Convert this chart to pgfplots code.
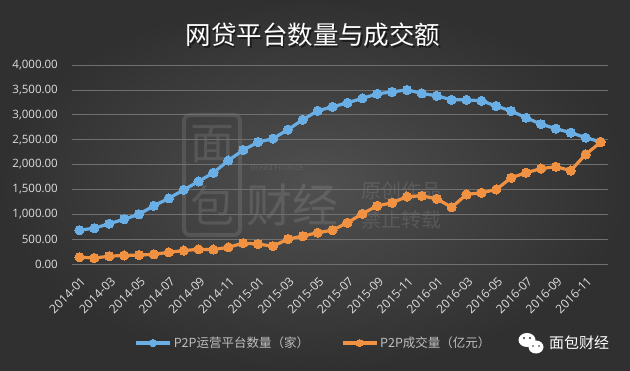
\documentclass[border=0pt]{standalone}
\usepackage{fontspec}
\setmainfont{Open Sans}
\newfontfamily\cjk{Noto Sans CJK SC}
\usepackage{pgfplots}
\pgfplotsset{compat=1.18}
\usepackage{pgfplotstable}
\definecolor{bgin}{RGB}{80,80,80}
\definecolor{bgout}{RGB}{48,48,48}
\definecolor{gridc}{RGB}{112,112,112}
\definecolor{tickc}{RGB}{222,222,222}
\definecolor{legc}{RGB}{190,190,190}
\definecolor{blueL}{RGB}{106,174,230}
\definecolor{orangeL}{RGB}{240,146,66}
\pgfplotstableread{
x blue orange
0 680 137
1 720 120
2 810 157
3 900 172
4 1000 180
5 1170 195
6 1320 235
7 1490 270
8 1660 295
9 1835 290
10 2080 335
11 2290 420
12 2450 400
13 2520 358
14 2700 500
15 2900 560
16 3080 630
17 3160 680
18 3240 830
19 3330 1010
20 3420 1170
21 3460 1230
22 3500 1355
23 3430 1370
24 3380 1310
25 3300 1140
26 3300 1398
27 3280 1432
28 3175 1499
29 3075 1734
30 2940 1835
31 2810 1918
32 2720 1955
33 2640 1878
34 2540 2203
35 2455 2445
}\datatable
\begin{document}
\begin{tikzpicture}[x=1pt,y=1pt]
\useasboundingbox (0,0) rectangle (630,370);
\shade[inner color=bgin, outer color=bgout] (0,0) rectangle (630,370);
% faint watermark logo
\begin{scope}[white, opacity=0.11]
\draw[line width=4pt, rounded corners=6pt] (184,135) rectangle (240,255);
\node[font=\cjk\fontsize{44}{44}\selectfont] at (212,226) {面};
\node[font=\cjk\fontsize{44}{44}\selectfont] at (212,165) {包};
\node[font=\fontsize{8}{8}\selectfont, anchor=west] at (247,202) {Bread Finance};
\node[font=\cjk\fontsize{46}{46}\selectfont, anchor=west] at (243,165) {财经};
\node[font=\cjk\fontsize{20}{20}\selectfont, anchor=west] at (358,179) {原创作品};
\node[font=\cjk\fontsize{20}{20}\selectfont, anchor=west] at (358,150) {禁止转载};
\end{scope}
% title
\node[font=\cjk\fontsize{25.5}{25.5}\selectfont, text=black, opacity=0.5] at (314.5,333.5) {网贷平台数量与成交额};
\node[font=\cjk\fontsize{25.5}{25.5}\selectfont, text=white] at (313,335) {网贷平台数量与成交额};
% WeChat-like icon and brand
\fill[white] (527,30) ellipse (8.5 and 7);
\fill[white] (536,23) ellipse (7.5 and 6.5);
\fill[bgout] (524,32) circle (1.1) (530,32) circle (1.1) (533,24) circle (0.9) (539,24) circle (0.9);
\node[font=\cjk\fontsize{15}{15}\selectfont, text=white, anchor=west, inner sep=0pt] at (549,27) {面包财经};
\begin{axis}[
  at={(72pt,106pt)}, anchor=south west,
  width=536pt, height=199pt, scale only axis,
  xmin=-0.5, xmax=35.5, ymin=0, ymax=4000,
  axis line style={draw=none},
  axis x line*=bottom,
  ytick={0,500,...,4000},
  xtick={0,2,...,34},
  xticklabels={2014-01,2014-03,2014-05,2014-07,2014-09,2014-11,2015-01,2015-03,2015-05,2015-07,2015-09,2015-11,2016-01,2016-03,2016-05,2016-07,2016-09,2016-11},
  major tick length=0pt,
  ymajorgrids, grid style={gridc, line width=0.7pt},
  /pgf/number format/assume math mode=true,
  yticklabel={\pgfmathprintnumber[fixed, fixed zerofill, precision=2, 1000 sep={,}]{\tick}},
  yticklabel style={font=\fontsize{11.5}{11.5}\selectfont, text=tickc, anchor=east, inner sep=0pt, xshift=-14pt},
  xticklabel style={font=\fontsize{12}{12}\selectfont, text=tickc, anchor=east, inner sep=0pt, xshift=4pt, yshift=-15pt, rotate=45},
  legend style={at={(0.4506,-0.397)}, anchor=center, draw=none, fill=none, text=legc, font=\cjk\fontsize{12.5}{12.5}\selectfont, legend columns=2, /tikz/every even column/.append style={column sep=30pt}, inner sep=0pt},
  legend image code/.code={\draw[#1, mark=none] (0pt,0pt) -- (34pt,0pt); \draw[#1, mark size=3.5pt] plot coordinates {(17pt,0pt)};},
  every axis plot/.append style={line width=3.2pt, mark=*, mark size=4.6pt},
  clip=false,
]
\draw[gridc, line width=0.7pt] (axis cs:-0.5,0) -- (axis cs:35.5,0);
\addplot[color=blueL, mark options={fill=blueL, draw=blueL, line width=0pt}] table[x=x, y=blue] {\datatable};
\addlegendentry{P2P运营平台数量（家）}
\addplot[color=orangeL, mark options={fill=orangeL, draw=orangeL, line width=0pt}] table[x=x, y=orange] {\datatable};
\addlegendentry{P2P成交量（亿元）}
\end{axis}
\end{tikzpicture}
\end{document}
